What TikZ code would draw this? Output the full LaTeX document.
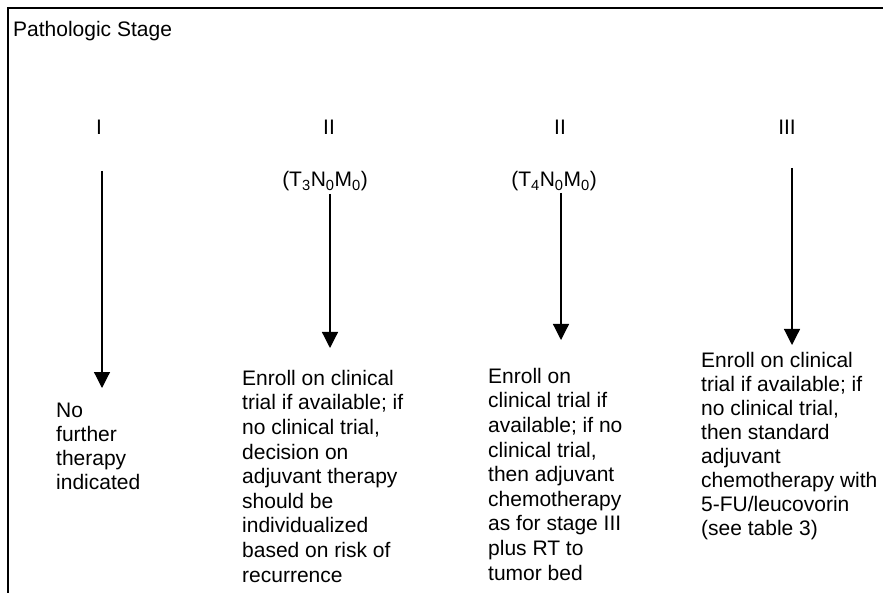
\documentclass[tikz,border=0pt]{standalone}
\usepackage{fontspec}
\setmainfont{Liberation Sans}
\usetikzlibrary{arrows.meta}
\begin{document}
\begin{tikzpicture}[x=1pt,y=-1pt,
  txt/.style={font=\fontsize{21}{24}\selectfont, inner sep=0pt, align=left, anchor=base west},
  wide/.style={font=\fontsize{21}{24.6}\selectfont},
  lbl/.style={font=\fontsize{21}{24}\selectfont, inner sep=0pt, anchor=base},
  conn/.style={line width=1.2pt, -{Triangle[width=16pt,length=16pt]}},
  frame/.style={line width=1.8pt}]
\useasboundingbox (0,0) rectangle (883,593);
% frame
\coordinate (fb) at (8,593);
\coordinate (fc) at (8,8);
\coordinate (fr) at (883,8);
\draw[frame] (fb) -- (fc) -- (fr);
% title
\node[txt] (title) at (13,37) {Pathologic Stage};
% stage labels
\node[lbl] (st1) at (99,135) {I};
\node[lbl] (st2) at (329,135) {II};
\node[lbl] (st3) at (560,135) {II};
\node[lbl] (st4) at (787,135) {III};
\node[lbl] (tnm2) at (325,187) {(T\textsubscript{3}N\textsubscript{0}M\textsubscript{0})};
\node[lbl] (tnm3) at (554,187) {(T\textsubscript{4}N\textsubscript{0}M\textsubscript{0})};
% outcome texts (anchored at the baseline of their last line)
\node[txt] (out1) at (56,489) {No\\further\\therapy\\indicated};
\node[txt,wide] (out2) at (242,582) {Enroll on clinical\\trial if available; if\\no clinical trial,\\decision on\\adjuvant therapy\\should be\\individualized\\based on risk of\\recurrence};
\node[txt,wide] (out3) at (488,580) {Enroll on\\clinical trial if\\available; if no\\clinical trial,\\then adjuvant\\chemotherapy\\as for stage III\\plus RT to\\tumor bed};
\node[txt] (out4) at (701,535) {Enroll on clinical\\trial if available; if\\no clinical trial,\\then standard\\adjuvant\\chemotherapy with\\5-FU/leucovorin\\(see table 3)};
% arrow end points
\coordinate (s1) at (102,171); \coordinate (e1) at (102,388);
\coordinate (s2) at (330,194); \coordinate (e2) at (330,348);
\coordinate (s3) at (561,193); \coordinate (e3) at (561,340);
\coordinate (s4) at (792,168); \coordinate (e4) at (792,345);
\draw[conn] (s1) -- (e1);
\draw[conn] (s2) -- (e2);
\draw[conn] (s3) -- (e3);
\draw[conn] (s4) -- (e4);
\end{tikzpicture}
\end{document}
